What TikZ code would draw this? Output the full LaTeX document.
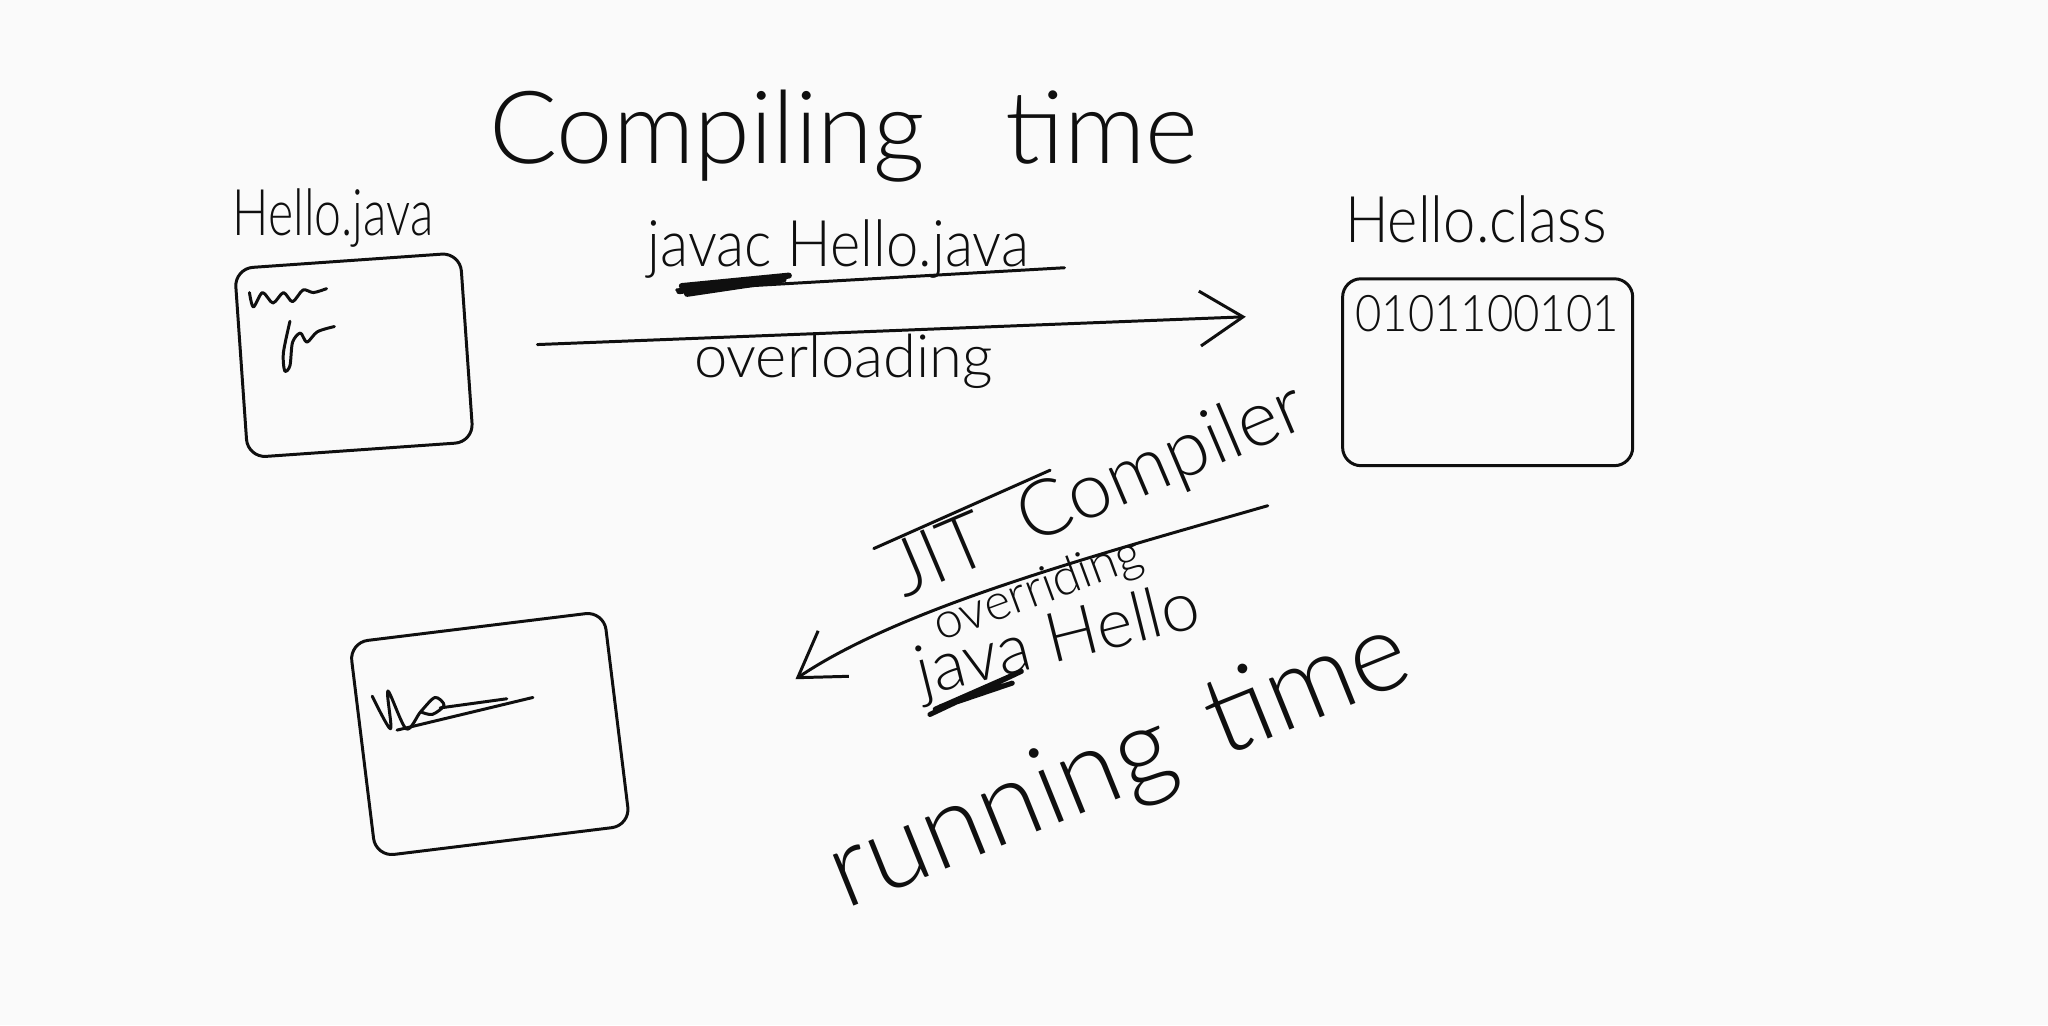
\documentclass[tikz,border=0pt]{standalone}
\usepackage{fontspec}
\setsansfont{Lato Light}
\usepackage{xcolor}
\usepackage{tikz}
\usetikzlibrary{arrows.meta,positioning,calc}
\definecolor{paper}{RGB}{250,250,250}
\definecolor{ink}{RGB}{15,15,15}

\begin{document}
\begin{tikzpicture}[x=0.01cm, y=0.01cm,
            pen/.style={draw=ink, line width=0.65pt, line cap=round, line join=round},
            filebox/.style={pen, rectangle, rounded corners=4pt, inner sep=0pt},
            hand/.style={font=\sffamily\fontsize{#1}{#1}\selectfont, text=ink, inner sep=0pt},
            arr/.style={pen, -{Straight Barb[length=3.3mm, width=4.2mm]}}]

            % Paper and page size
            \fill[paper] (0,0) rectangle (1568,-785);
            \useasboundingbox (0,0) rectangle (1568,-785);

            % Headings
            \node[hand=22, anchor=base] (compiling) at (646,-125) {Compiling\hspace{0.8em}time};
            \node[hand=24, anchor=base, rotate=22] (running) at (866,-608) {running\hspace{0.4em}time};

            % Files
            \node[hand=14, anchor=base, xscale=0.75] (javaname) at (255,-180) {Hello.java};
            \node[filebox, minimum width=1.73cm, minimum height=1.45cm, rotate=4] (javabox) at (271,-272) {};
            \node[hand=14, anchor=base, xscale=0.9] (classname) at (1130,-186) {Hello.class};
            \node[filebox, minimum width=2.22cm, minimum height=1.43cm] (classbox) at (1139,-285) {};
            \node[hand=11, anchor=base west, xscale=0.9] (bits) at (1037,-254) {0101100101};
            \node[filebox, minimum width=1.96cm, minimum height=1.65cm, rotate=7] (runbox) at (375,-562) {};

            % Commands
            \node[hand=14, anchor=base, xscale=0.9] (javac) at (642,-204) {javac Hello.java};
            \node[hand=17, anchor=base, rotate=23] (jit) at (848,-392) {JIT\hspace{0.5em}Compiler};
            \node[hand=15, anchor=base, rotate=14] (javarun) at (814,-506) {java Hello};

            % Edges
            \draw[arr, shorten <=0.53cm, shorten >=0.73cm] (javabox.east) -- node[hand=13, pos=0.43, below=0pt] (overload) {overloading} (classbox.158);
            \draw[arr, shorten <=1.07cm, shorten >=1.55cm] (classbox.228) to[out=196, in=34] node[hand=11, pos=0.45, below=-3pt, sloped] (override) {overriding} (runbox.-30);

            % Underlines and scribbles
            \draw[pen] (518,-222) -- (815,-205);
            \draw[pen, line width=1.3pt] (520,-223) -- (604,-211) -- (522,-219) -- (600,-214) -- (526,-225);
            \draw[pen] (669,-420) -- (804,-360);
            \draw[pen, line width=1.1pt] (712,-547) -- (782,-514) -- (716,-543) -- (775,-523) -- (720,-541);
            \draw[pen] plot[smooth] coordinates {(191,-224) (194,-235) (201,-224) (209,-232) (217,-224) (224,-231) (232,-222) (240,-224) (250,-221)};
            \draw[pen] plot[smooth] coordinates {(222,-246) (217,-270) (218,-284) (222,-280) (224,-262) (230,-255) (235,-262) (243,-254) (256,-250)};
            \draw[pen] plot[smooth] coordinates {(285,-533) (299,-558) (297,-529) (311,-558) (322,-545) (333,-534) (340,-540) (331,-547) (322,-545)};
            \draw[pen] (304,-559) -- (408,-534);
            \draw[pen] (337,-542) -- (388,-535);
\end{tikzpicture}
\end{document}
